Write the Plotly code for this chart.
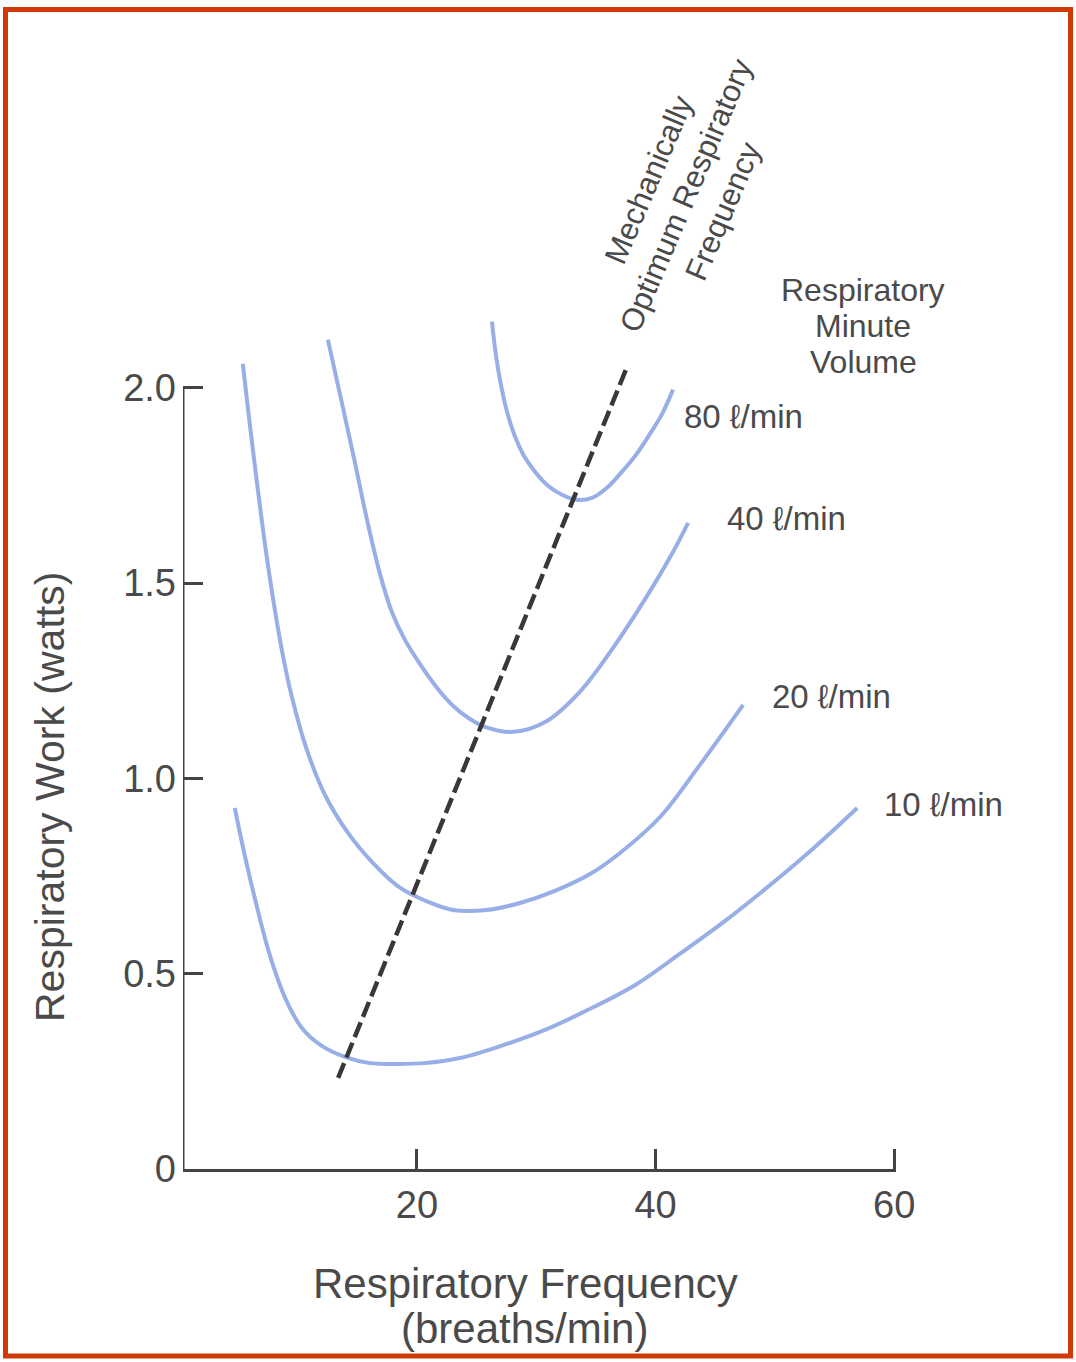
import plotly.graph_objects as go

# ---- data ----
freq_10 = [4.74, 5.58, 6.58, 7.67, 8.93, 10.36, 12.03, 13.96, 16.06, 18.15, 20.67, 23.61, 26.94, 30.74, 34.51, 38.30, 42.05, 45.83, 49.60, 53.38, 56.90]
work_10 = [0.924, 0.802, 0.673, 0.548, 0.440, 0.361, 0.315, 0.287, 0.271, 0.269, 0.271, 0.284, 0.314, 0.356, 0.410, 0.471, 0.551, 0.635, 0.727, 0.825, 0.924]

freq_20 = [5.41, 5.99, 6.58, 7.25, 7.92, 8.68, 9.52, 10.78, 12.29, 14.21, 16.39, 18.49, 20.75, 23.02, 25.87, 28.64, 31.57, 34.51, 37.02, 40.38, 43.73, 47.34]
work_20 = [2.061, 1.908, 1.762, 1.603, 1.465, 1.329, 1.209, 1.073, 0.958, 0.861, 0.781, 0.722, 0.686, 0.663, 0.663, 0.681, 0.712, 0.755, 0.809, 0.901, 1.035, 1.188]

freq_40 = [12.54, 13.79, 14.88, 15.89, 16.90, 17.90, 18.99, 20.25, 21.68, 23.02, 24.44, 25.70, 28.05, 30.90, 33.67, 36.44, 39.29, 41.47, 42.73]
work_40 = [2.123, 1.951, 1.798, 1.652, 1.524, 1.426, 1.355, 1.293, 1.232, 1.186, 1.152, 1.132, 1.119, 1.147, 1.222, 1.334, 1.467, 1.580, 1.654]

freq_80 = [26.29, 26.62, 27.04, 27.55, 28.22, 28.97, 29.90, 30.99, 32.16, 33.42, 34.68, 35.93, 37.19, 38.36, 39.54, 40.55, 41.47]
work_80 = [2.169, 2.084, 2.008, 1.939, 1.875, 1.826, 1.785, 1.749, 1.726, 1.713, 1.718, 1.744, 1.785, 1.828, 1.882, 1.933, 1.995]

optimum_freq = [13.40, 37.69]
optimum_work = [0.233, 2.059]

curve_labels = ["80 ℓ/min", "40 ℓ/min", "20 ℓ/min", "10 ℓ/min"]
label_x = [42.2, 45.8, 49.6, 59.0]
label_y = [1.926, 1.665, 1.209, 0.932]

x_tickvals = [20, 40, 60]
x_ticktext = ["20", "40", "60"]
y_tickvals = [0, 0.5, 1.0, 1.5, 2.0]
y_ticktext = ["0", "0.5", "1.0", "1.5", "2.0"]

X_RANGE = [0.4, 60.15]
Y_RANGE = [0, 2.25]

# ---- layout geometry ----
W, H = 1076, 1362
ML, MR, MT, MB = 183, 180, 290, 193
PW, PH = W - ML - MR, H - MT - MB


def px_to_paper(px, py):
    return (px - ML) / PW, (H - MB - py) / PH


BLUE = "#98aee6"
TEXT = "#4a4a4a"
AXIS = "#444444"
FONT = "Liberation Sans, Arial, Helvetica, sans-serif"

fig = go.Figure()
for fx, wy in [(freq_10, work_10), (freq_20, work_20), (freq_40, work_40), (freq_80, work_80)]:
    fig.add_trace(go.Scatter(x=fx, y=wy, mode="lines",
                             line=dict(color=BLUE, width=4, shape="spline", smoothing=1.0),
                             hoverinfo="skip", showlegend=False))

fig.add_trace(go.Scatter(x=optimum_freq, y=optimum_work, mode="lines",
                         line=dict(color="#383838", width=4.5, dash="16px,6px"),
                         hoverinfo="skip", showlegend=False))

annotations = []
for t, lx, ly in zip(curve_labels, label_x, label_y):
    annotations.append(dict(x=lx, y=ly, xref="x", yref="y", text=t, showarrow=False,
                            xanchor="left", yanchor="middle", font=dict(size=33, color=TEXT, family=FONT)))


def text_at(text, px, py, size, angle=0, align="center"):
    ax, ay = px_to_paper(px, py)
    annotations.append(dict(x=ax, y=ay, xref="paper", yref="paper", text=text, showarrow=False,
                            align=align, textangle=angle, xanchor="center", yanchor="middle",
                            font=dict(size=size, color=TEXT, family=FONT)))


# legend-title block
text_at("Respiratory", 863, 290, 32)
text_at("Minute", 863, 326, 32)
text_at("Volume", 863, 362, 32)

# rotated label along the dashed line
text_at("Mechanically<br>Optimum Respiratory<br>Frequency", 686, 196, 31, angle=-67)

# axis titles
text_at("Respiratory Work (watts)", 50, 797, 41, angle=-90)
text_at("Respiratory Frequency", 525, 1283, 42)
text_at("(breaths/min)", 524, 1328, 42)

shapes = [
    # y axis line from 0 to the top tick
    dict(type="line", xref="x", yref="y", x0=X_RANGE[0], x1=X_RANGE[0], y0=y_tickvals[0], y1=y_tickvals[-1],
         line=dict(color=AXIS, width=3)),
]
bx0, by0 = px_to_paper(5.5, 9.5)
bx1, by1 = px_to_paper(1070.5, 1356)
shapes.append(dict(type="rect", xref="paper", yref="paper", x0=bx0, x1=bx1, y0=by1, y1=by0,
                   line=dict(color="#cf3a06", width=5), fillcolor="rgba(0,0,0,0)", layer="above"))

fig.update_layout(
    width=W, height=H,
    margin=dict(l=ML, r=MR, t=MT, b=MB, pad=0),
    paper_bgcolor="white", plot_bgcolor="white",
    showlegend=False,
    annotations=annotations,
    shapes=shapes,
    xaxis=dict(range=X_RANGE, tickvals=x_tickvals, ticktext=x_ticktext, ticks="inside", ticklen=20,
               tickwidth=3, tickcolor=AXIS, showline=True, linecolor=AXIS, linewidth=3,
               showgrid=False, zeroline=False, ticklabelstandoff=0,
               tickfont=dict(size=38, color=TEXT, family=FONT)),
    yaxis=dict(range=Y_RANGE, tickvals=y_tickvals, ticktext=y_ticktext, ticks="inside", ticklen=20,
               tickwidth=3, tickcolor=AXIS, showline=False, showgrid=False, zeroline=False,
               ticklabelstandoff=6,
               tickfont=dict(size=38, color=TEXT, family=FONT)),
)

fig.write_html("out.html", config={"displayModeBar": False},
               post_script="document.body.style.margin='0px';")
